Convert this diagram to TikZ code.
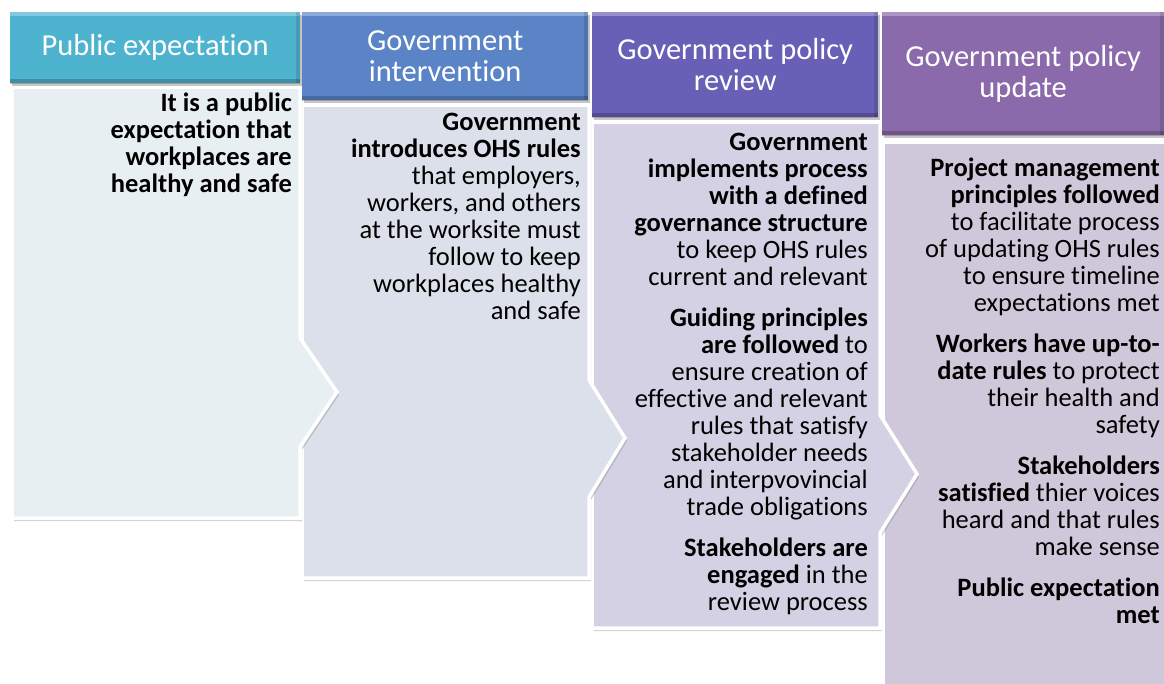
\documentclass[tikz,border=0pt]{standalone}
\usepackage{fontspec}
\setmainfont{Carlito}[Ligatures=NoCommon]
\usetikzlibrary{shadows}

\definecolor{headA}{RGB}{78,179,207}
\definecolor{headB}{RGB}{91,132,199}
\definecolor{headC}{RGB}{104,96,183}
\definecolor{headD}{RGB}{138,106,171}
\definecolor{bodyA}{RGB}{232,239,243}
\definecolor{bodyB}{RGB}{220,224,235}
\definecolor{bodyC}{RGB}{211,209,227}
\definecolor{bodyD}{RGB}{207,200,218}

\tikzset{
	head/.style={anchor=north west, inner sep=0pt, align=center, text=white,
		font=\fontsize{30.5}{31}\selectfont,
		drop shadow={shadow xshift=1.5pt, shadow yshift=-2.5pt, opacity=0.45},
		path picture={
			\draw[white, opacity=0.3, line width=8pt] (path picture bounding box.north west) -- (path picture bounding box.north east);
			\draw[black, opacity=0.2, line width=8pt] (path picture bounding box.south west) -- (path picture bounding box.south east);
			\draw[black, opacity=0.12, line width=8pt] (path picture bounding box.north east) -- (path picture bounding box.south east);}},
	body/.style={draw=white, line width=3.5pt, line join=miter,
		drop shadow={shadow xshift=2pt, shadow yshift=-3pt, opacity=0.35}},
	say/.style={anchor=north east, align=right, inner sep=0pt,
		font=\fontsize{26.5}{27}\selectfont}
}

\begin{document}
\begin{tikzpicture}[x=1pt, y=-1pt]
	\useasboundingbox (0,0) rectangle (1164,683);

	% bodies, last column first so each chevron lies on the next one
	\draw[body, fill=bodyD] (883,142) -- (1170,142) -- (1170,692) -- (883,692) -- cycle;
	\draw[body, fill=bodyC] (592,122) -- (880,122) -- (880,415) -- (917,474) -- (880,533) -- (880,628) -- (592,628) -- cycle;
	\draw[body, fill=bodyB] (302,105) -- (589,105) -- (589,380) -- (625,438) -- (589,497) -- (589,578) -- (302,578) -- cycle;
	\draw[body, fill=bodyA] (12,87) -- (300,87) -- (300,338) -- (337,392) -- (300,447) -- (300,518) -- (12,518) -- cycle;

	% headers
	\node[head, fill=headD, minimum width=282pt, minimum height=123pt](update) at (882,12) {Government policy\\update};
	\node[head, fill=headC, minimum width=286pt, minimum height=105pt](review) at (592,12) {Government policy\\review};
	\node[head, fill=headB, minimum width=286pt, minimum height=88pt](intervention) at (302,12) {Government\\intervention};
	\node[head, fill=headA, minimum width=290pt, minimum height=71pt](expectation) at (10,12) {Public expectation};

	% texts
	\node[say](expectationtext) at (292,92.6) {\strut\textbf{It is a public}\\\textbf{expectation that}\\\textbf{workplaces are}\\\textbf{healthy and safe}};
	\node[say](interventiontext) at (581,111.6) {\strut\textbf{Government}\\\textbf{introduces OHS rules}\\that employers,\\workers, and others\\at the worksite must\\follow to keep\\workplaces healthy\\and safe};
	\node[say](reviewtext) at (868,131.6) {\strut\textbf{Government}\\\textbf{implements process}\\\textbf{with a defined}\\\textbf{governance structure}\\to keep OHS rules\\current and relevant\\[14pt]
		\textbf{Guiding principles}\\\textbf{are followed} to\\ensure creation of\\effective and relevant\\rules that satisfy\\stakeholder needs\\and interpvovincial\\trade obligations\\[14pt]
		\textbf{Stakeholders are}\\\textbf{engaged} in the\\review process};
	\node[say](updatetext) at (1160,157.6) {\strut\textbf{Project management}\\\textbf{principles followed}\\to facilitate process\\of updating OHS rules\\to ensure timeline\\expectations met\\[14pt]
		\textbf{Workers have up-to-}\\\textbf{date rules} to protect\\their health and\\safety\\[14pt]
		\textbf{Stakeholders}\\\textbf{satisfied} thier voices\\heard and that rules\\make sense\\[14pt]
		\textbf{Public expectation}\\\textbf{met}};
\end{tikzpicture}
\end{document}
